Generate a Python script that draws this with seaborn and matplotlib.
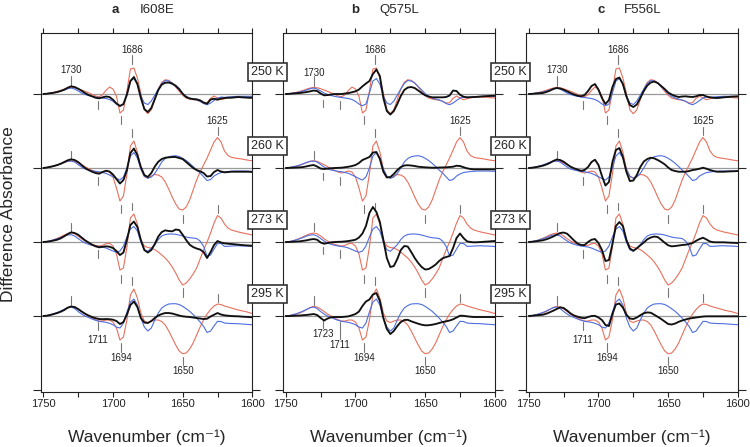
import numpy as np
import pandas as pd
import matplotlib
matplotlib.use("Agg")
import matplotlib.pyplot as plt
import matplotlib.transforms as mtransforms
import seaborn as sns

# -----------------------------
# Data (difference absorbance, arbitrary units)
# -----------------------------
wavenumber = np.linspace(1750, 1600, 61)   # 2.5 cm-1 sampling
temps = ["250 K", "260 K", "273 K", "295 K"]

# reference spectra (red / blue), same in every panel
red_250 = [0, 0.3, 1, 1.7, 2.7, 3.7, 5, 6, 6.7, 6.3,
           5.3, 4, 2.7, 1.3, -0.3, -2, -2.7, -0.7, 3.7, 7,
           5, -2.3, -19, -16, 3, 25, 26, 16, 1, -15.7,
           -19.7, -15.7, -5.7, 5, 11.7, 14.3, 13.7, 11, 7, 2.7,
           -1.3, -4, -5, -5.7, -6, -7.3, -9, -8.7, -4.3, -2,
           -4, -5.7, -4.7, -3.7, -3.3, -3.3, -3, -3.3, -3.3, -3.7, -4]
red_260 = [0, 0.3, 1, 1.7, 2.7, 4, 5.3, 6.7, 7.3, 6.7,
           5, 3.3, 1.3, -0.7, -2.3, -4, -5, -4, -3, -4,
           -9, -20, -33, -28, -6, 22, 27, 16, -1, -8.7,
           -10, -8, -6.5, -7, -9, -14, -21, -29, -36, -41,
           -42, -39, -32, -22, -12, -4, 3, 10, 18, 26,
           30.5, 26, 17, 12.5, 10.7, 10, 9.5, 9, 8.3, 7.7, 7.3]
red_273 = [0, 0.3, 1, 2.3, 3.7, 5.3, 7, 8.3, 9, 8.3,
           6, 3.3, 1, -1, -2.3, -3.3, -4, -3.3, -1.7, -1.3,
           -4, -12, -28, -26, -5, 24, 28, 18, 2, -4,
           -5.5, -6, -7.7, -10, -13, -16, -20, -25, -31, -38,
           -43, -41, -37, -32, -26, -17, -8, 0, 9, 19,
           26.5, 24, 18, 14, 12, 11, 10, 9.3, 8.5, 7.8, 7]
red_295 = [0, 0.3, 1, 2, 3, 4.5, 6.5, 8.5, 9.7, 9,
           7, 4.5, 2, 0, -2, -3.7, -5, -5, -4, -4,
           -6, -12, -24, -21, -4, 21, 27, 18, 3, -5,
           -6.5, -5, -4, -4, -5.5, -9, -15, -22, -29, -35,
           -37.7, -37, -33, -27, -19, -11, -4, 2, 6.5, 10,
           12, 11.5, 10, 9, 8, 7, 6, 5.2, 4.5, 3.5, 2.5]

blue_250 = [0, 0.3, 0.8, 1.3, 2, 3, 4, 5.3, 6, 5,
            3, 1, -0.5, -1.5, -2.3, -3, -3.5, -4, -4.5, -5.5,
            -7.3, -10, -11.7, -10, 1, 13, 15.5, 10, -2, -9,
            -10.5, -7, -1, 5, 10.5, 13.5, 13, 11, 7.5, 4,
            0.5, -2.3, -4, -5, -6, -7.3, -9.5, -10.7, -9, -6.5,
            -4, -3, -3.3, -3, -2.7, -2.5, -2.3, -2.3, -2.3, -2.3, -2.3]
blue_260 = [0, 0.5, 1.2, 2, 3, 4.3, 5.7, 6.7, 7, 6,
            3.5, 1, -1, -2, -2.7, -3.3, -3.7, -4.5, -5.3, -7,
            -8.7, -10.5, -12, -9, 0, 12, 15.5, 10, -1, -8,
            -10.3, -9, -5.3, 0, 6, 9.5, 11.3, 12, 12.3, 11.5,
            9.7, 7.5, 4.7, 1.5, -2, -5, -8.7, -12.5, -11.5, -8,
            -6, -4.5, -4, -3.5, -3.2, -3, -3, -3, -3, -3.2, -3.3]
blue_273 = [0, 0.5, 1.2, 2.2, 3.3, 4.5, 6, 7, 7.3, 6,
            3.5, 1, -1, -2.3, -3.3, -4, -4.5, -5, -6, -7.5,
            -9, -10.3, -9, -4, 5, 13, 15.5, 11, 0, -7.7,
            -9.3, -6, -2.7, 2.5, 6, 7.5, 8, 8, 7.7, 7,
            6, 5, 4.3, 4, 3.5, 1, -4.3, -14, -13, -7,
            -1.5, -1.5, -4.3, -4.3, -4, -3.8, -3.7, -4, -4, -4.2, -4.5]
blue_295 = [0, 0.5, 1.3, 2.3, 3.5, 5, 6.7, 8.3, 9, 7.5,
            4.5, 2, 0, -1.5, -3, -4.3, -5.3, -5.8, -6.3, -7.3,
            -8.7, -11, -12, -7, 4, 14, 17, 11, -2, -11,
            -15, -12, -4, 3, 8, 10.5, 12, 12.3, 12.3, 11.5,
            9.7, 7.3, 4.7, 1.5, -2, -6, -10.3, -16.5, -15, -10,
            -5.3, -5.5, -7, -7.3, -7.5, -7.6, -7.7, -8, -8.2, -8.5, -8.7]

# mutant spectra (black)
i608e_250 = [0, 0.3, 0.8, 1.3, 2, 3, 4.3, 6.3, 7.7, 7,
             5.3, 3.3, 1, -1, -2.3, -3.7, -4.3, -3.3, -2.5, -3,
             -5.7, -9.5, -12, -10, -0.7, 13, 17, 10, -4, -15,
             -18, -14, -5, 4, 9.5, 11.3, 11.5, 10.3, 8.3, 5,
             0.3, -3, -4.5, -5, -5.3, -6.3, -8.5, -9.7, -5.5, -4.7,
             -5.7, -4.5, -4, -3.7, -3.7, -3.3, -3, -3.3, -3.5, -3.7, -3.7]
i608e_260 = [0, 0.5, 1.2, 2, 3, 4.3, 6, 7.7, 8.7, 8,
             6, 3, 0, -2, -3.7, -5, -5.7, -4, -2.7, -3.5,
             -6.5, -11, -15.5, -12, -2, 15, 19.5, 13, 1, -7,
             -9, -5, 1.5, 6.3, 9, 10.3, 10.7, 11, 11, 10,
             9, 6, 3, 0, -2, -3.3, -5, -8.5, -8, -4,
             -2, -3.5, -4.3, -4, -3.7, -3.7, -3.7, -3.7, -3.7, -3.7, -4]
i608e_273 = [0, 0.3, 0.8, 1.5, 2.3, 3.7, 5.7, 8, 9.7, 9,
             7.3, 4.5, 1.7, -0.5, -2.7, -4.3, -5.3, -4.8, -4.3, -4.7,
             -6, -9, -13, -10.5, 2.3, 17, 20.5, 15, 2, -8,
             -10.5, -8, -2, 5.5, 10, 11.7, 11, 10.7, 12.5, 12,
             7.3, 2, -2.7, -5, -6.5, -7.5, -10, -16, -10, -3,
             1, -0.5, -1.3, -1.7, -2, -2.3, -2.7, -3, -3.3, -3.5, -3.7]
i608e_295 = [0, 0.3, 1, 2, 3, 4.3, 6, 8.3, 9.5, 9,
             7, 4.5, 2.3, 0.5, -1, -2.2, -3, -3.2, -3, -3.2,
             -3.7, -5, -8, -6, 1.5, 11, 14.5, 9, -2, -6.5,
             -7, -5, -2, 0.5, 2, 3, 3, 2.5, 1.5, 0.5,
             -0.3, -0.7, -1, -1.5, -2, -2.5, -3, -2.7, -0.5, 1.3,
             3, 1.5, 0.7, 0.3, 0, -0.2, -0.3, -0.6, -0.8, -1, -1.3]

q575l_250 = [0, 0.2, 0.5, 0.8, 1, 1.5, 2, 2.7, 3.5, 3,
             0.5, -1.3, -1, -0.5, 0, 0, 0, 0.5, 1, 1.8,
             2.7, 4.5, 7.7, 10.5, 13, 20, 24.5, 18, -4, -17,
             -20.5, -17, -10, -2, 4, 6.5, 7, 6, 3.5, 1,
             -1.3, -2.5, -3.3, -3.3, -3.3, -3.3, -3, -1.5, 3.5, 3,
             -0.7, -2.7, -3.3, -3.2, -3, -2.8, -2.5, -2.2, -2, -1.8, -1.7]
q575l_260 = [0, 0.2, 0.3, 0.5, 0.7, 1, 1.7, 2.5, 3, 1.5,
             -0.5, -1, -0.5, -0.2, 0, 0.2, 0.3, 0.8, 1.3, 2,
             3, 5, 8, 9.5, 11, 15.5, 16, 9, -3.7, -9.5,
             -9, -6, -2, 1, 2.5, 2.8, 2.5, 2, 1.3, 1,
             0.7, 0.5, 0.3, 0.3, 0.5, 0.6, 0.7, 1, 1.3, 2.3,
             2, 0.8, -0.3, -1, -1.3, -1.3, -1.3, -1.3, -1.3, -1.3, -1.3]
q575l_273 = [0, 0.1, 0.3, 0.5, 0.7, 1.2, 1.7, 2.5, 3, 2.3,
             -0.5, -1.7, -1, -0.3, 0, 0.2, 0.3, 0.6, 1, 1.6,
             2.3, 4.5, 8.5, 16, 29, 35, 30, 20, 2, -16,
             -25, -24, -17, -8, -4, -4.5, -10, -16, -21, -25,
             -27.5, -27, -25, -22.5, -19, -16.3, -15, -14, -6, 4,
             8.5, 4, 0.7, 0, -0.3, -0.2, 0, 0.3, 0.5, 0.8, 1]
q575l_295 = [0, 0, 0.2, 0.4, 0.5, 0.8, 1.1, 1.5, 2, 1,
             -2, -4.5, -2.5, -1.2, -1, -1, -1, -0.7, -0.3, 0.8,
             2, 4.5, 10, 14.5, 16.5, 21.5, 23, 15, -2, -13,
             -18, -15, -10, -6, -4, -3.8, -5.3, -6.5, -7.7, -8.7,
             -9.3, -9.2, -8.7, -8, -7, -6, -5.3, -4.5, -3.3, -1.5,
             0.3, 0.2, -0.3, -0.7, -1, -1, -1, -1, -1, -1, -1]

f556l_250 = [0, 0.2, 0.5, 0.8, 1, 2, 3.3, 5, 6, 5.5,
             4.3, 2.7, 1, -0.5, -1.7, -2.3, -1, 3, 8, 10,
             4.3, -4, -10, -6, 7, 15, 16.5, 10, -2.3, -11,
             -13, -10.5, -4, 3, 8.5, 11.5, 12.5, 11, 8, 5,
             1.5, -0.5, -2, -3, -2.5, -2.3, -2.7, -3, -2.3, -1,
             -1, -2.5, -3.3, -3.8, -4, -3.7, -3.3, -3, -2.7, -2.5, -2.3]
f556l_260 = [0, 0.3, 0.8, 1.5, 2.3, 3.5, 5, 7, 8.5, 8,
             6.3, 3.7, 1.3, -0.3, -1.5, -2.8, -2, 1, 6, 8.3,
             3, -8, -17.5, -14, 6, 18, 20, 11, -3.7, -13,
             -12.5, -7, 1, 6.5, 9, 10.3, 9.7, 8, 6, 3.7,
             0.5, -2, -3, -3.7, -3.7, -3.7, -3, -2, -1.5, -0.7,
             0.3, -0.7, -2, -3, -3.7, -3.7, -3.7, -3.5, -3.3, -3.2, -3]
f556l_273 = [0, 0.3, 0.7, 1.2, 1.7, 2.7, 4, 5.5, 7.3, 9,
             9.5, 8.3, 5, 1.5, -1.5, -3, -3, 0, 2.3, 3,
             -1, -8, -19, -18, -2, 16, 20, 16, 2.3, -6.5,
             -8.7, -6.3, -3.3, -0.5, 2.7, 4.5, 5.5, 5, 2.3, -0.7,
             -3.3, -4.3, -4, -3.5, -3, -2.7, -2, -1, 1.2, 3,
             4.3, 2.5, 0.5, -0.2, -0.3, -0.3, -0.3, -0.5, -0.7, -0.8, -1]
f556l_295 = [0, 0.3, 0.7, 1, 1.3, 2.3, 3.7, 5.3, 7, 8.7,
             8, 5.5, 2.5, 0.5, -0.7, -1.7, -2.2, -1, 0, 0.2,
             -1.5, -4, -9, -10, 2, 11.5, 12.5, 8.5, 1.3, -2.5,
             -3, -1.5, 0.8, 2.8, 3.6, 3.3, 1.3, -0.8, -3, -5.5,
             -8, -8.5, -7.5, -5.8, -4.5, -3.5, -2.5, -2, -1.5, -1,
             -0.5, -0.3, -0.3, -0.3, -0.3, -0.3, -0.3, -0.3, -0.3, -0.3, -0.3]

panel_letters = ["a", "b", "c"]
mutants = ["I608E", "Q575L", "F556L"]
red_rows = [red_250, red_260, red_273, red_295]
blue_rows = [blue_250, blue_260, blue_273, blue_295]
black_rows = [
    [i608e_250, i608e_260, i608e_273, i608e_295],
    [q575l_250, q575l_260, q575l_273, q575l_295],
    [f556l_250, f556l_260, f556l_273, f556l_295],
]

# band markers per temperature row: (wavenumber, start, end) relative to baseline
marks_250 = [(1730, 8, 18), (1686, 30, 39), (1711, -7, -15), (1694, -22, -30)]
marks_260 = [(1730, 9, 17), (1686, 31, 39), (1625, 33, 41), (1711, -9, -17),
             (1694, -37, -45), (1650, -47, -55)]
marks_273 = [(1730, 11, 19), (1686, 32, 39), (1625, 29, 37), (1711, -8, -16),
             (1694, -33, -41), (1650, -46, -55)]
marks_295 = [(1730, 11, 20), (1686, 31, 39), (1625, 14, 22), (1711, -6, -14),
             (1694, -27, -36), (1650, -41, -49)]
marks_1723 = [(1723, -6, -13), (1723, -5, -12), (1723, -5, -12), (1723, -4, -12)]
mark_rows = [marks_250, marks_260, marks_273, marks_295]

# band labels: (row, wavenumber, y relative to baseline)
labels_top = [(0, 1730, 24), (0, 1686, 44), (1, 1625, 47)]
labels_bottom = [(3, 1711, -24), (3, 1694, -41.5), (3, 1650, -54.5)]
labels_b_extra = [(3, 1723, -17.5)]

ROW_STEP = 74

# -----------------------------
# Long-form table
# -----------------------------
records = []
for p, mut in enumerate(mutants):
    for r, temp in enumerate(temps):
        off = -ROW_STEP * r
        for name, vals in (("ref_red", red_rows[r]), ("ref_blue", blue_rows[r]),
                           ("mutant", black_rows[p][r])):
            for wn, v in zip(wavenumber, vals, strict=True):
                records.append((mut, temp, r, name, wn, v + off))
df = pd.DataFrame(records, columns=["panel", "temp", "row", "series", "wn", "y"])

# -----------------------------
# Plot
# -----------------------------
sns.set_theme(style="ticks")
plt.rcParams["font.family"] = ["Liberation Sans", "DejaVu Sans"]

RED = "#e8705c"
BLUE = "#4d6ee0"
BLACK = "#111111"
MARK = "#777777"

fig = plt.figure(figsize=(7.5, 4.47), dpi=100)
lefts = [40.5 / 750, 283 / 750, 526 / 750]
letter_x = [0.352, 0.340, 0.353]
axes = []

for p, mut in enumerate(mutants):
    ax = fig.add_axes([lefts[p], 0.123, 0.2825, 0.8031])
    axes.append(ax)
    sub = df[df["panel"] == mut]

    for r in range(4):
        ax.axhline(-ROW_STEP * r, color="#9a9a9a", lw=0.9, zorder=1)

    styles = [("ref_red", RED, 0.8), ("ref_blue", BLUE, 0.8), ("mutant", BLACK, 1.35)]
    for name, col, lw in styles:
        sns.lineplot(data=sub[sub["series"] == name], x="wn", y="y", units="row",
                     estimator=None, sort=False, color=col, lw=lw, ax=ax, zorder=3)

    for r in range(4):
        off = -ROW_STEP * r
        marks = list(mark_rows[r])
        if mut == "Q575L":
            marks.append(marks_1723[r])
            marks = [(w, a, -23) if (r == 3 and w == 1711) else (w, a, b)
                     for (w, a, b) in marks]
        for w, a, b in marks:
            ax.plot([w, w], [off + a, off + b], color=MARK, lw=0.8, zorder=2)

    lab = list(labels_top) + list(labels_bottom)
    if mut == "Q575L":
        lab = [(r, w, 21) if (r == 0 and w == 1730) else
               (r, w, -29) if (r == 3 and w == 1711) else (r, w, y) for (r, w, y) in lab]
        lab += labels_b_extra
    for r, w, y in lab:
        ax.text(w, -ROW_STEP * r + y, str(w), fontsize=7, ha="center", va="center",
                color="#222222")

    ax.set_xlim(1752, 1600)
    ax.set_ylim(-298, 61)
    ax.set_xticks([1750, 1725, 1700, 1675, 1650, 1625, 1600])
    ax.set_xticklabels(["1750", "", "1700", "", "1650", "", "1600"])
    ax.set_yticks([0, -74, -148, -222, -296])
    ax.set_yticklabels([])
    ax.tick_params(axis="x", direction="out", top=True, bottom=True, length=3.6,
                   width=0.8, labelsize=8, pad=1.2, colors="#222222")
    ax.tick_params(axis="y", direction="out", left=True, right=True, length=6,
                   width=0.8)
    for s in ax.spines.values():
        s.set_linewidth(0.8)
        s.set_color("#222222")
    ax.set_xlabel("")
    ax.set_ylabel("")

    ax.text(letter_x[p], 1.0557, panel_letters[p], transform=ax.transAxes,
            fontsize=9.5, fontweight="bold", ha="center", va="baseline")
    ax.text(0.551, 1.0557, mut, transform=ax.transAxes, fontsize=9.5,
            ha="center", va="baseline")
    ax.text(0.5, -0.1393, "Wavenumber (cm\u207b\u00b9)", transform=ax.transAxes,
            fontsize=12.5, ha="center", va="baseline")

fig.text(9 / 750, 1 - 214 / 447, "Difference Absorbance", rotation=90,
         fontsize=12.5, ha="center", va="center")

# temperature boxes in the gaps between panels
trans = mtransforms.blended_transform_factory(fig.transFigure, axes[0].transData)
for gx in (267.5 / 750, 510.5 / 750):
    for r, temp in enumerate(temps):
        fig.text(gx, -ROW_STEP * r + 22, temp, transform=trans, fontsize=9,
                 ha="center", va="center",
                 bbox=dict(boxstyle="square,pad=0.22", fc="white", ec="#333333", lw=1.2))

fig.savefig("out.png", dpi=100)
